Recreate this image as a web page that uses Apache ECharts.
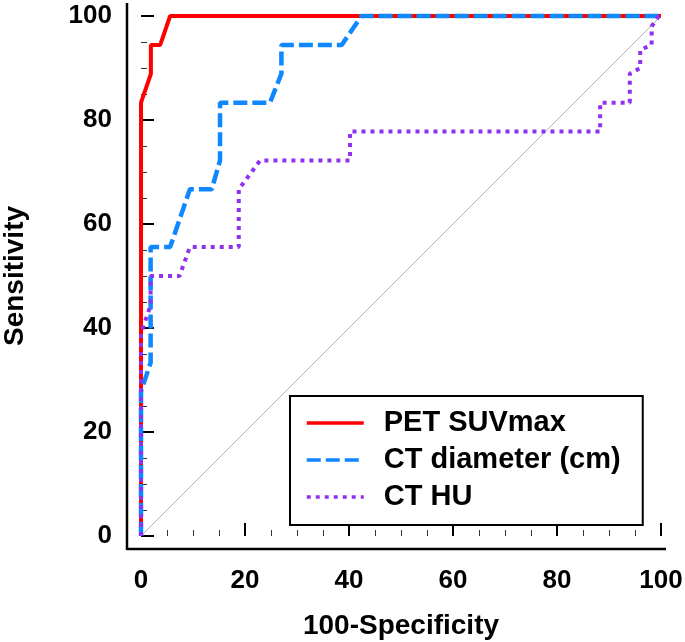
<!DOCTYPE html>
<html><head><meta charset="utf-8">
<script src="https://cdn.jsdelivr.net/npm/echarts@6/dist/echarts.min.js"></script>
<style>html,body{margin:0;padding:0;background:#fff}#c{width:685px;height:642px}</style>
</head><body><div id="c"></div>
<script>
// ---- data ----
const seriesNames = ['PET SUVmax', 'CT diameter (cm)', 'CT HU'];
const petX = [0, 0, 1.9, 1.9, 3.7, 5.6, 100];
const petY = [0, 83.33, 88.89, 94.44, 94.44, 100, 100];
const ctdX = [0, 0, 1.85, 1.85, 5.6, 9.4, 13.6, 15.2, 15.2, 24.8, 27.0, 27.0, 38.6, 42.4, 100];
const ctdY = [0, 27.78, 33.33, 55.56, 55.56, 66.67, 66.67, 72.22, 83.33, 83.33, 88.89, 94.44, 94.44, 100, 100];
const huX = [0, 0, 1.85, 1.85, 7.4, 9.4, 18.8, 18.8, 22.9, 40.2, 40.2, 88.3, 88.3, 94.0, 94.0, 96.0, 96.0, 98.2, 98.2, 99.6, 100];
const huY = [0, 38.89, 44.44, 50, 50, 55.56, 55.56, 66.67, 72.22, 72.22, 77.78, 77.78, 83.33, 83.33, 88.89, 90.0, 93.5, 94.44, 98.0, 100, 100];
const refX = [0, 100];
const refY = [0, 100];
const axisTicks = [0, 20, 40, 60, 80, 100];

const zip = (xs, ys) => xs.map((x, i) => [x, ys[i]]);
const FONT = "'Liberation Sans', Arial, sans-serif";

const chart = echarts.init(document.getElementById('c'), null, {renderer: 'canvas'});
const axisCommon = {
  type: 'value', min: axisTicks[0], max: axisTicks[axisTicks.length - 1],
  interval: axisTicks[1] - axisTicks[0],
  splitLine: {show: false},
  axisLine: {show: false},
  axisTick: {show: true, inside: true, length: 13, lineStyle: {color: '#000', width: 2}},
  minorTick: {show: true, splitNumber: 4, length: 6, lineStyle: {color: '#333', width: 1}},
  axisLabel: {color: '#000', fontFamily: FONT, fontWeight: 'bold', fontSize: 26},
  nameLocation: 'middle',
  nameTextStyle: {color: '#000', fontFamily: FONT, fontWeight: 'bold', fontSize: 28}
};
chart.setOption({
  animation: false,
  backgroundColor: '#fff',
  grid: {left: 141, right: 24, top: 16, bottom: 106, containLabel: false, outerBoundsMode: 'none'},
  xAxis: Object.assign({}, axisCommon, {
    name: '100-Specificity', nameGap: 63, offset: 13,
    axisLabel: Object.assign({}, axisCommon.axisLabel, {margin: 19})
  }),
  yAxis: Object.assign({}, axisCommon, {
    name: 'Sensitivity', nameGap: 98, offset: 14,
    axisLabel: Object.assign({}, axisCommon.axisLabel, {margin: 15})
  }),
  legend: {
    data: seriesNames,
    orient: 'vertical', left: 290, top: 396,
    itemWidth: 57, itemHeight: 14, itemGap: 7,
    padding: [12, 13, 13, 15],
    borderColor: '#000', borderWidth: 2, backgroundColor: '#fff',
    selectedMode: false,
    itemStyle: {opacity: 0, borderWidth: 0},
    lineStyle: {width: 3.5},
    textStyle: {color: '#000', fontFamily: FONT, fontWeight: 'bold', fontSize: 29,
      lineHeight: 30, width: 246, padding: [0, 0, 0, 15]}
  },
  series: [
    {name: 'ref', type: 'line', data: zip(refX, refY), symbol: 'none', silent: true,
      lineStyle: {color: '#b4b4b4', width: 1}, z: 1},
    {name: seriesNames[0], type: 'line', data: zip(petX, petY), symbol: 'none', clip: false,
      color: '#ff0000', lineStyle: {color: '#ff0000', width: 4}, z: 2},
    {name: seriesNames[1], type: 'line', data: zip(ctdX, ctdY), symbol: 'none', clip: false,
      color: '#0f87ff', lineStyle: {color: '#0f87ff', width: 4.5, type: [14, 5]}, z: 3},
    {name: seriesNames[2], type: 'line', data: zip(huX, huY), symbol: 'none', clip: false,
      color: '#9030f0', lineStyle: {color: '#9030f0', width: 4, type: [4, 5]}, z: 4}
  ]
});
const p0 = chart.convertToPixel({gridIndex: 0}, [axisTicks[0], axisTicks[0]]);
const p1 = chart.convertToPixel({gridIndex: 0}, [axisTicks[5], axisTicks[5]]);
const ax = p0[0] - 14, ay = p0[1] + 13;
chart.setOption({
  graphic: [
    {type: 'line', shape: {x1: ax, y1: ay, x2: p1[0] + 5, y2: ay}, style: {stroke: '#000', lineWidth: 2.5}, z: 10},
    {type: 'line', shape: {x1: ax, y1: ay + 1, x2: ax, y2: p1[1] - 13}, style: {stroke: '#000', lineWidth: 2.5}, z: 10}
  ]
});
</script></body></html>
